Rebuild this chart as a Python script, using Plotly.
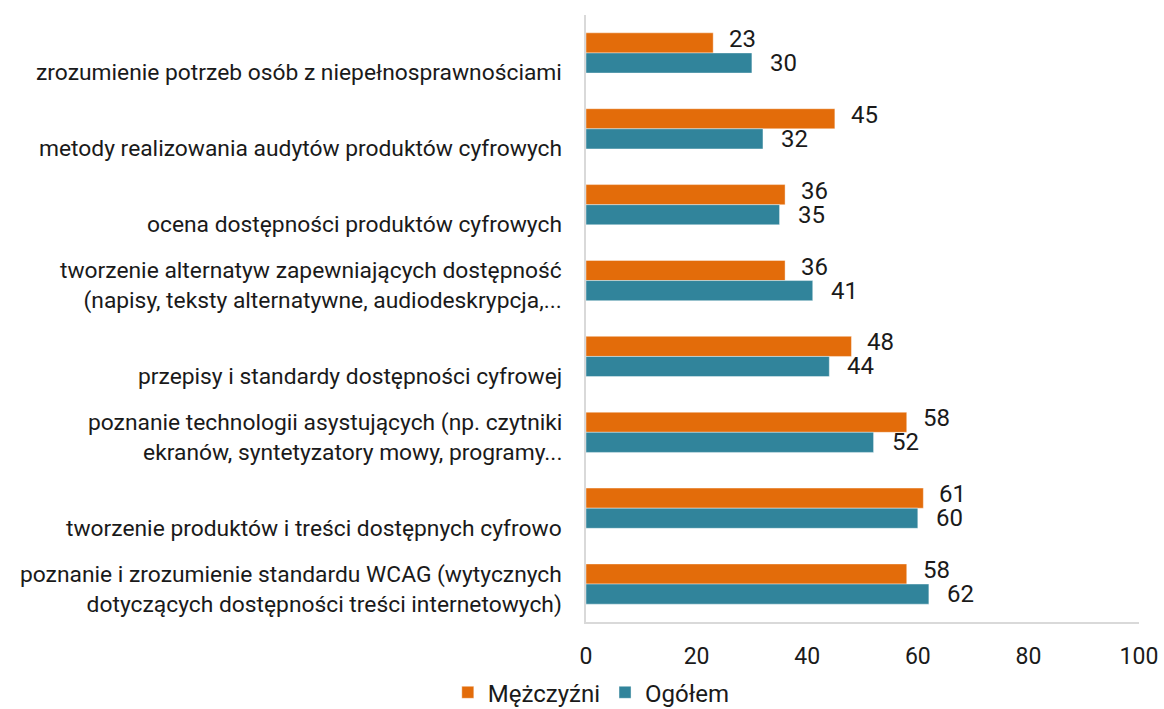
import plotly.graph_objects as go

categories = [
    'zrozumienie potrzeb osób z niepełnosprawnościami',
    'metody realizowania audytów produktów cyfrowych',
    'ocena dostępności produktów cyfrowych',
    'tworzenie alternatyw zapewniających dostępność<br>(napisy, teksty alternatywne, audiodeskrypcja,...',
    'przepisy i standardy dostępności cyfrowej',
    'poznanie technologii asystujących (np. czytniki<br>ekranów, syntetyzatory mowy, programy...',
    'tworzenie produktów i treści dostępnych cyfrowo',
    'poznanie i zrozumienie standardu WCAG (wytycznych<br>dotyczących dostępności treści internetowych)',
]
men = [23, 45, 36, 36, 48, 58, 61, 58]
total = [30, 32, 35, 41, 44, 52, 60, 62]

ORANGE = '#E36C0A'
TEAL = '#31849B'
FONT = 'Roboto, Noto Sans, sans-serif'
TXT = '#1a1a1a'

fig = go.Figure()
fig.add_trace(go.Bar(y=categories, x=men, name='Mężczyźni', orientation='h',
                     marker=dict(color=ORANGE, line=dict(color='rgba(255,255,255,0.5)', width=0.8))))
fig.add_trace(go.Bar(y=categories, x=total, name='Ogółem', orientation='h',
                     marker=dict(color=TEAL, line=dict(color='rgba(255,255,255,0.5)', width=0.8))))

# value labels, nudged off the bar ends
for cat, m, t in zip(categories, men, total):
    fig.add_annotation(x=m, y=cat, text=str(m), showarrow=False, xanchor='left',
                       xshift=14, yshift=14, font=dict(size=24, color=TXT, family=FONT))
    fig.add_annotation(x=t, y=cat, text=str(t), showarrow=False, xanchor='left',
                       xshift=16, yshift=-10, font=dict(size=24, color=TXT, family=FONT))

# category labels (Excel puts one-line labels a bit below the group centre)
for cat in categories:
    two_lines = '<br>' in cat
    fig.add_annotation(x=0, xref='paper', y=cat, text=cat, showarrow=False,
                       xanchor='right', align='right', xshift=-22,
                       yshift=-5 if two_lines else -20,
                       font=dict(size=22.8, color=TXT, family=FONT))

fig.update_layout(
    width=1164, height=709,
    margin=dict(l=586, r=25, t=15, b=87),
    barmode='group', bargap=0.47, bargroupgap=0,
    plot_bgcolor='white', paper_bgcolor='white',
    font=dict(family=FONT, color=TXT),
    legend=dict(orientation='h', xref='container', yref='container',
                x=0.508, xanchor='center', y=0.023, yanchor='middle',
                font=dict(size=24, color=TXT), traceorder='normal'),
)
fig.update_xaxes(range=[0, 100], dtick=20, showgrid=False, zeroline=False,
                 showline=True, linecolor='#D9D9D9', linewidth=1.5, automargin=False,
                 ticklabelstandoff=13, tickfont=dict(size=23, color=TXT))
fig.update_yaxes(autorange='reversed', showgrid=False, showline=True,
                 linecolor='#D9D9D9', linewidth=1.5, automargin=False,
                 showticklabels=False)

# drop the default 8px body margin so the figure fills the window exactly
fig.write_html('out.html', config={'displayModeBar': False},
               post_script="document.body.style.margin='0';")
